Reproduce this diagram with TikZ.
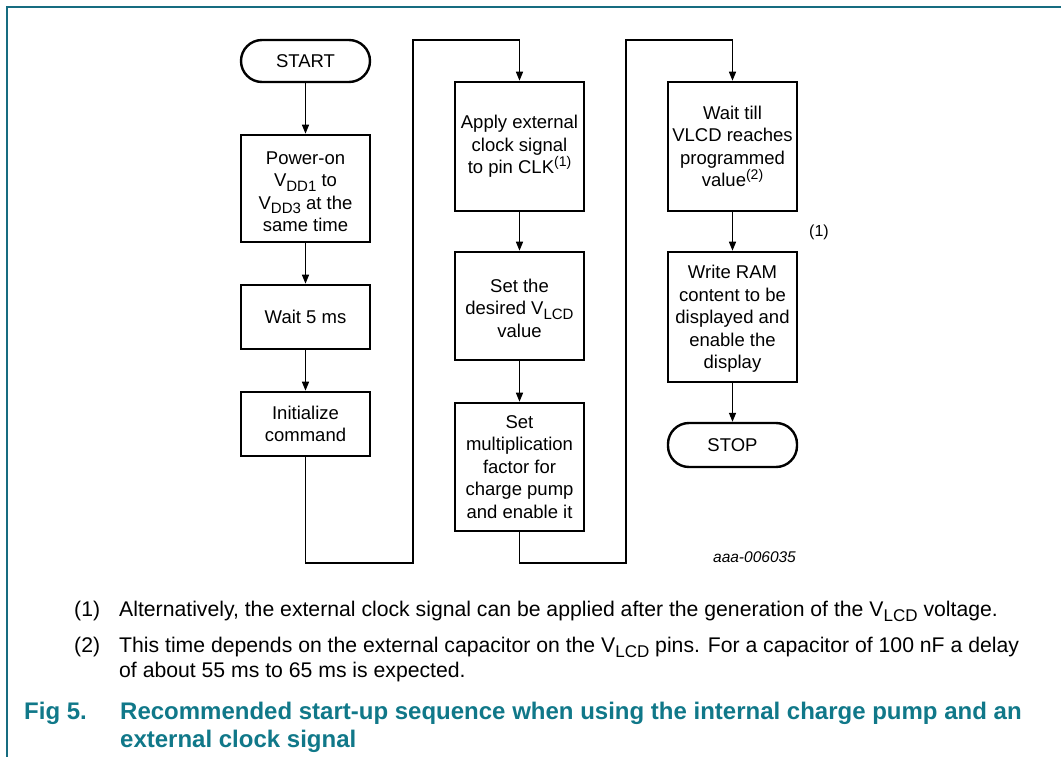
\documentclass[tikz,border=0pt]{standalone}
\usepackage{fontspec}
\setmainfont{Liberation Sans}
\usetikzlibrary{arrows.meta}
\definecolor{frameteal}{RGB}{22,108,128}
\definecolor{capteal}{RGB}{16,120,137}
\newcommand{\lsub}[1]{\raisebox{-0.26em}{\fontsize{15}{15}\selectfont #1}}
\newcommand{\nsub}[1]{\raisebox{-0.26em}{\fontsize{17}{17}\selectfont #1}}
\newcommand{\lsup}[1]{\raisebox{0.42em}{\fontsize{14}{14}\selectfont #1}}
\begin{document}
\begin{tikzpicture}[x=1pt,y=-1pt,
  boxtext/.style={inner sep=0pt, align=center, font=\fontsize{18.5}{22.5}\selectfont},
  box/.style={boxtext, draw, line width=2.6pt, minimum width=129pt},
  term/.style={box, rounded corners=21pt, line width=2.4pt},
  flow/.style={line width=1.4pt, -{Triangle[length=9pt,width=7pt]}},
  frame/.style={draw=frameteal, line width=1.6pt},
  note/.style={anchor=base west, inner sep=0pt, font=\fontsize{21.2}{26}\selectfont},
  capt/.style={anchor=base west, inner sep=0pt, text=capteal, font=\bfseries\fontsize{24}{28}\selectfont},
]
\useasboundingbox (0,0) rectangle (1061,757);
\draw[frame] (7,757) -- (7,7) -- (1061,7);

% column 1
\node[term, minimum height=42pt] (start) at (305.5,61) {START};
\node[box, minimum height=107pt] (pow) at (305.5,188.5) {};
\node[boxtext] (powtext) at (305.5,191.5) {Power-on\\V\lsub{DD1} to\\V\lsub{DD3} at the\\same time};
\node[box, minimum height=64pt] (wait5) at (305.5,317) {Wait 5 ms};
\node[box, minimum height=64pt] (init) at (305.5,424) {Initialize\\command};

% column 2
\node[box, minimum height=129pt] (apply) at (519.5,146.5) {Apply external\\clock signal\\to pin CLK\lsup{(1)}};
\node[box, minimum height=108pt] (setv) at (519.5,306) {};
\node[boxtext] (setvtext) at (519.5,308) {Set the\\desired V\lsub{LCD}\\value};
\node[box, minimum height=128pt] (mult) at (519.5,467) {Set\\multiplication\\factor for\\charge pump\\and enable it};

% column 3
\node[box, minimum height=129pt] (waitv) at (732.5,146.5) {Wait till\\VLCD reaches\\programmed\\value\lsup{(2)}};
\node[box, minimum height=130pt] (ram) at (732.5,317) {};
\node[boxtext] (ramtext) at (732.5,319) {Write RAM\\content to be\\displayed and\\enable the\\display};
\node[term, minimum height=44pt] (stop) at (732.5,445) {STOP};

\node[font=\fontsize{16}{16}\selectfont] (n1) at (819,232) {(1)};
\node[font=\itshape\fontsize{15.5}{16}\selectfont] (code) at (754.5,557) {aaa-006035};

% bend points
\coordinate (b1) at (305.5,563);
\coordinate (b2) at (413,563);
\coordinate (b3) at (413,40);
\coordinate (b4) at (519.5,40);
\coordinate (c1) at (519.5,563);
\coordinate (c2) at (626,563);
\coordinate (c3) at (626,40);
\coordinate (c4) at (732.5,40);

\draw[flow] (start) -- (pow);
\draw[flow] (pow) -- (wait5);
\draw[flow] (wait5) -- (init);
\draw[flow] (init.south) -- (b1) -- (b2) -- (b3) -- (b4) -- (apply.north);
\draw[flow] (apply) -- (setv);
\draw[flow] (setv) -- (mult);
\draw[flow] (mult.south) -- (c1) -- (c2) -- (c3) -- (c4) -- (waitv.north);
\draw[flow] (waitv) -- (ram);
\draw[flow] (ram) -- (stop);

% notes
\node[note] (f1n) at (74,616) {(1)};
\node[note] (f1) at (119,616) {Alternatively, the external clock signal can be applied after the generation of the V\nsub{LCD} voltage.};
\node[note] (f2n) at (74,652) {(2)};
\node[note] (f2) at (119,652) {This time depends on the external capacitor on the V\nsub{LCD} pins. For a capacitor of 100 nF a delay};
\node[note] (f2b) at (119,677) {of about 55 ms to 65 ms is expected.};

% caption
\node[capt] (capn) at (24,719.5) {Fig 5.};
\node[capt] (cap1) at (120,719.5) {Recommended start-up sequence when using the internal charge pump and an};
\node[capt] (cap2) at (120,747) {external clock signal};
\end{tikzpicture}
\end{document}
